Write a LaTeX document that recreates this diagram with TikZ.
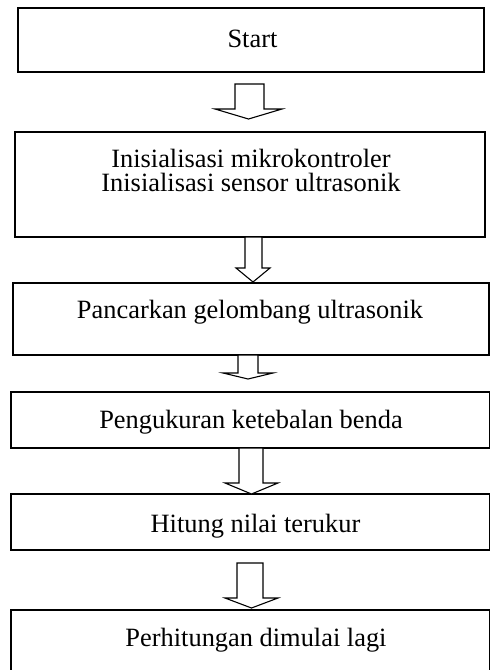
\documentclass[tikz,border=0pt]{standalone}
\usepackage{fontspec}
\setmainfont{Liberation Serif}
\tikzset{
  box/.style={draw=black, line width=1.6pt, rectangle, inner sep=0pt},
  lbl/.style={anchor=base, inner sep=0pt, font=\fontsize{26.4}{23.5}\selectfont, align=center},
  barrow/.style={draw=black, line width=1.1pt, line join=miter, fill=white}
}
\newcommand{\blockarrow}[7]{% xl xr ytop yneck hl hr ytip
  \draw[barrow] (#1,#3) -- (#1,#4) -- (#5,#4) -- ({(#5+#6)/2},#7) -- (#6,#4) -- (#2,#4) -- (#2,#3) -- cycle;}
\begin{document}
\begin{tikzpicture}[x=1pt,y=-1pt]
\clip (0,0) rectangle (490,670);
\fill[white] (0,0) rectangle (490,670);
% boxes
\node[box, minimum width=466pt, minimum height=64pt] (b1) at (251,40) {};
\node[box, minimum width=470pt, minimum height=105pt] (b2) at (250,184.5) {};
\node[box, minimum width=476pt, minimum height=72pt] (b3) at (251,319) {};
\node[box, minimum width=479pt, minimum height=56pt] (b4) at (250.5,420) {};
\node[box, minimum width=479pt, minimum height=56pt] (b5) at (250.5,522) {};
\node[box, minimum width=479pt, minimum height=80pt] (b6) at (250.5,650) {};
% labels
\node[lbl] (t1) at (252.5,47) {Start};
\node[lbl, anchor=center] (t2) at (251,170.5) {Inisialisasi mikrokontroler\\Inisialisasi sensor ultrasonik};
\node[lbl] (t3) at (250,318) {Pancarkan gelombang ultrasonik};
\node[lbl] (t4) at (251,428) {Pengukuran ketebalan benda};
\node[lbl] (t5) at (255.5,532) {Hitung nilai terukur};
\node[lbl] (t6) at (256,646) {Perhitungan dimulai lagi};
% block arrows
\blockarrow{235}{264}{84}{109}{215}{282}{119}
\blockarrow{245}{262}{237}{268}{236}{270}{282}
\blockarrow{238}{258}{355}{373}{223}{273}{379}
\blockarrow{239}{263}{448}{483}{225}{278}{494}
\blockarrow{237}{263}{563}{598}{225}{278}{608}
\end{tikzpicture}
\end{document}
